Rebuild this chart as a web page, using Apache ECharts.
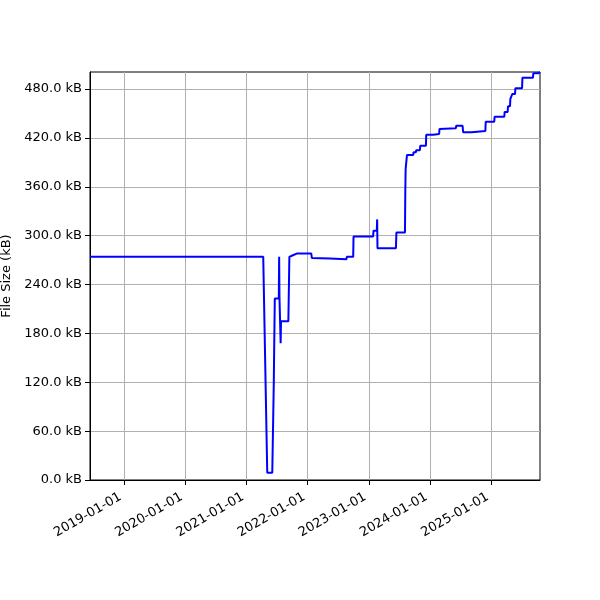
<!DOCTYPE html>
<html>
<head>
<meta charset="utf-8">
<script src="https://cdn.jsdelivr.net/npm/echarts@6/dist/echarts.min.js"></script>
<style>
  html, body { margin: 0; padding: 0; background: #fff; }
  #chart { width: 600px; height: 600px; }
</style>
</head>
<body>
<div id="chart"></div>
<script>
// dates and file sizes (kB)
var dates = [
  '2018-06-12', '2021-04-11', '2021-05-05', '2021-06-04', '2021-06-13', '2021-06-19',
  '2021-07-13', '2021-07-15', '2021-07-17', '2021-07-24', '2021-07-26', '2021-09-08',
  '2021-09-14', '2021-10-05', '2021-10-28', '2022-01-23', '2022-01-26', '2022-05-13',
  '2022-08-21', '2022-08-23', '2022-09-30', '2022-10-02', '2023-01-27', '2023-01-29',
  '2023-02-18', '2023-02-20', '2023-02-22', '2023-06-12', '2023-06-15', '2023-08-05',
  '2023-08-07', '2023-08-09', '2023-08-14', '2023-08-17', '2023-09-23', '2023-09-25',
  '2023-10-09', '2023-10-11', '2023-11-02', '2023-11-04', '2023-12-08', '2023-12-10',
  '2024-01-20', '2024-01-22', '2024-02-25', '2024-02-27', '2024-06-04', '2024-06-06',
  '2024-07-14', '2024-07-17', '2024-09-06', '2024-09-08', '2024-11-27', '2024-11-29',
  '2025-01-19', '2025-01-21', '2025-03-20', '2025-03-22', '2025-04-09', '2025-04-11',
  '2025-04-23', '2025-04-25', '2025-05-05', '2025-05-07', '2025-05-23', '2025-05-25',
  '2025-07-04', '2025-07-06', '2025-09-07', '2025-09-09', '2025-10-10', '2025-10-13',
  '2025-10-19'
];
var sizes = [
  274, 274, 9, 9, 119, 223,
  223, 274, 223, 168, 195, 195,
  274, 276, 278, 278, 272.6, 272,
  271.2, 274, 274, 299, 299, 306,
  306, 320, 284.5, 284.5, 304, 304,
  354, 382, 382, 399, 399, 402.4,
  402.4, 405, 405, 410.5, 410.5, 424,
  424, 425, 425, 431, 432, 435,
  435, 427, 427, 428.6, 428.6, 440,
  440, 446, 446, 452, 452, 459,
  459, 468, 468, 474, 474, 481,
  481, 494, 494, 499.5, 499.5, 501,
  501
];
var xTickLabels = ['2019-01-01', '2020-01-01', '2021-01-01', '2022-01-01',
                   '2023-01-01', '2024-01-01', '2025-01-01'];
var yTicks = [0, 60, 120, 180, 240, 300, 360, 420, 480];

function toTs(s) {
    return new Date(s + 'T00:00:00Z').getTime();
}

var seriesData = [];
for (let i = 0; i < dates.length; i++) {
    seriesData.push([toTs(dates[i]), sizes[i]]);
}
var xTicks = xTickLabels.map(toTs);

var myChart = echarts.init(document.getElementById('chart'));

var option = {
    backgroundColor: '#fff',
    animation: false,
    textStyle: {
        fontFamily: 'DejaVu Sans'
    },
    grid: {
        left: 90,
        right: 60,
        top: 72,
        bottom: 120,
        show: true,
        borderColor: '#000',
        borderWidth: 1,
        outerBoundsMode: 'none'
    },
    xAxis: {
        type: 'value',
        min: toTs(dates[0]),
        max: toTs(dates[dates.length - 1]),
        axisLine: {
            lineStyle: {color: '#000', width: 1}
        },
        axisTick: {
            customValues: xTicks,
            length: 5,
            lineStyle: {color: '#000', width: 1}
        },
        axisLabel: {
            customValues: xTicks,
            rotate: 30,
            fontSize: 13,
            color: '#000',
            margin: 14,
            padding: [0, 4, 0, 0],
            formatter: function (v) {
                return new Date(v).toISOString().slice(0, 10);
            }
        },
        splitLine: {
            show: true,
            lineStyle: {color: '#b0b0b0', width: 1}
        }
    },
    yAxis: {
        type: 'value',
        min: 0,
        max: 501,
        name: 'File Size (kB)',
        nameLocation: 'middle',
        nameGap: 75,
        nameTextStyle: {
            fontSize: 13,
            color: '#000'
        },
        axisLine: {
            show: true,
            lineStyle: {color: '#000', width: 1}
        },
        axisTick: {
            show: true,
            customValues: yTicks,
            length: 5,
            lineStyle: {color: '#000', width: 1}
        },
        axisLabel: {
            customValues: yTicks,
            fontSize: 13,
            color: '#000',
            margin: 8,
            formatter: function (v) {
                return v.toFixed(1) + ' kB';
            }
        },
        splitLine: {
            show: true,
            lineStyle: {color: '#b0b0b0', width: 1}
        }
    },
    series: [
        {
            type: 'line',
            data: seriesData,
            showSymbol: false,
            symbol: 'none',
            lineStyle: {color: '#0000ff', width: 2}
        }
    ]
};

myChart.setOption(option);
</script>
</body>
</html>
